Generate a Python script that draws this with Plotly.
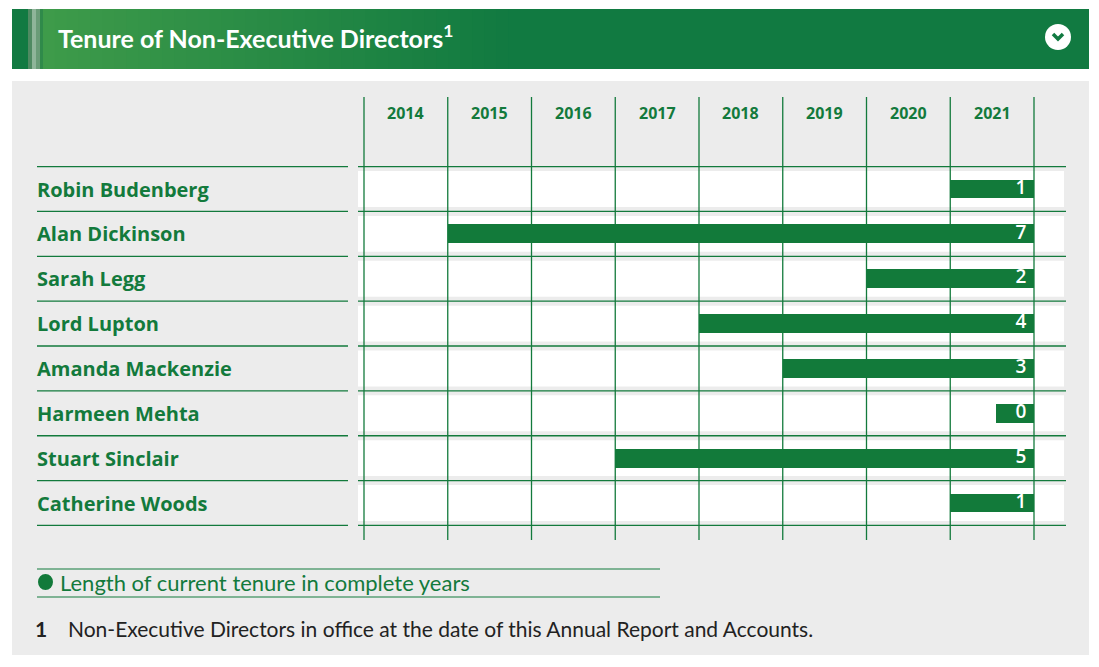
import plotly.graph_objects as go

# the page puts the figure 8px in from the top-left corner
OFF = 8
W, H = 1099 - OFF, 667 - OFF

# data
directors = ["Robin Budenberg", "Alan Dickinson", "Sarah Legg", "Lord Lupton",
             "Amanda Mackenzie", "Harmeen Mehta", "Stuart Sinclair", "Catherine Woods"]
start_year = [2021, 2015, 2020, 2018, 2019, 2021.55, 2017, 2021]
tenure_years = [1, 7, 2, 4, 3, 0, 5, 1]
years = [2014, 2015, 2016, 2017, 2018, 2019, 2020, 2021]
end_year = 2022

GREEN = "#137a3c"
BAR = "#127a3a"
GREY = "#ececec"

# pixel geometry of the chart area (x: year grid, y: rows), in screen pixels
x0_px, x1_px = 364, 1034
px_per_year = (x1_px - x0_px) / (end_year - years[0])
row0_px, row_px = 189, 44.86


def px_x(px):
    return (px - OFF) / W


def px_y(py):
    return 1 - (py - OFF) / H


xrange_ = [years[0] - (x0_px - OFF) / px_per_year, years[0] + (W + OFF - x0_px) / px_per_year]
yrange_ = [(H + OFF - row0_px) / row_px, -(row0_px - OFF) / row_px]

fig = go.Figure()

lengths = [end_year - s for s in start_year]
fig.add_trace(go.Bar(
    y=directors, x=lengths, base=start_year, orientation="h",
    marker=dict(color=BAR, line=dict(width=0)), width=0.42,
    hoverinfo="skip", showlegend=False,
))
fig.add_trace(go.Scatter(
    y=directors, x=[end_year - 0.09] * len(directors), mode="text",
    text=[str(t) for t in tenure_years], textposition="middle left",
    textfont=dict(family="Open Sans", size=19, color="white", weight=600),
    hoverinfo="skip", showlegend=False,
))

shapes = []
# grey panel
shapes.append(dict(type="rect", xref="paper", yref="paper", layer="below",
                   x0=px_x(12), x1=px_x(1089), y0=px_y(655), y1=px_y(81),
                   fillcolor=GREY, line=dict(width=0)))
# banner: fake gradient with strips
c0, c1 = (62, 155, 74), (17, 122, 65)
n = 40
bx0, bx1 = 43, 520
for i in range(n):
    t = i / (n - 1)
    col = tuple(int(c0[k] + (c1[k] - c0[k]) * t) for k in range(3))
    shapes.append(dict(type="rect", xref="paper", yref="paper", layer="below",
                       x0=px_x(bx0 + (bx1 - bx0) * i / n), x1=px_x(bx0 + (bx1 - bx0) * (i + 1) / n + 1),
                       y0=px_y(69), y1=px_y(9), fillcolor="rgb(%d,%d,%d)" % col, line=dict(width=0)))
shapes.append(dict(type="rect", xref="paper", yref="paper", layer="below",
                   x0=px_x(bx1), x1=px_x(1089), y0=px_y(69), y1=px_y(9),
                   fillcolor="rgb(17,122,65)", line=dict(width=0)))
shapes.append(dict(type="rect", xref="paper", yref="paper", layer="below",
                   x0=px_x(12), x1=px_x(28), y0=px_y(69), y1=px_y(9),
                   fillcolor="#127a42", line=dict(width=0)))
for (a, b, c) in [(28, 32, "#4f8a62"), (32, 36, "#8fb59a"), (36, 40, "#6a9c78"), (40, 43, "#2f8a4a")]:
    shapes.append(dict(type="rect", xref="paper", yref="paper", layer="below",
                       x0=px_x(a), x1=px_x(b), y0=px_y(69), y1=px_y(9),
                       fillcolor=c, line=dict(width=0)))
# chevron button
shapes.append(dict(type="circle", xref="paper", yref="paper", layer="above",
                   x0=px_x(1045), x1=px_x(1071), y0=px_y(50), y1=px_y(24),
                   fillcolor="white", line=dict(width=0)))
shapes.append(dict(type="path", xref="paper", yref="paper", layer="above",
                   path="M %f %f L %f %f L %f %f" % (px_x(1053), px_y(34), px_x(1058), px_y(39), px_x(1063), px_y(34)),
                   line=dict(color="#117a41", width=3.5)))

# white row bands
for i in range(len(directors)):
    shapes.append(dict(type="rect", xref="paper", yref="y", layer="below",
                       x0=px_x(358), x1=px_x(1064), y0=i - 0.40, y1=i + 0.40,
                       fillcolor="white", line=dict(width=0)))
# horizontal rules
for i in range(len(directors) + 1):
    yy = i - 0.5
    for a, b in [(37, 348), (358, 1066)]:
        shapes.append(dict(type="line", xref="paper", yref="y", layer="below",
                           x0=px_x(a), x1=px_x(b), y0=yy, y1=yy,
                           line=dict(color=GREEN, width=1.3)))
# vertical year lines
for yr in years + [end_year]:
    shapes.append(dict(type="line", xref="x", yref="paper", layer="below",
                       x0=yr, x1=yr, y0=px_y(540), y1=px_y(97),
                       line=dict(color=GREEN, width=1.3)))
# legend rules
for yy in [569, 597]:
    shapes.append(dict(type="line", xref="paper", yref="paper", layer="below",
                       x0=px_x(37), x1=px_x(660), y0=px_y(yy), y1=px_y(yy),
                       line=dict(color=GREEN, width=1.2)))
shapes.append(dict(type="circle", xref="paper", yref="paper", layer="above",
                   x0=px_x(38), x1=px_x(53), y0=px_y(590), y1=px_y(574),
                   fillcolor=BAR, line=dict(width=0)))

annotations = []
annotations.append(dict(xref="paper", yref="paper", x=px_x(56), y=px_y(37),
                        xanchor="left", yanchor="middle", showarrow=False,
                        text="Tenure of Non-Executive Directors<sup>1</sup>",
                        font=dict(family="Lato", size=25, color="white", weight="bold")))
for yr in years:
    annotations.append(dict(xref="x", yref="paper", x=yr + 0.5, y=px_y(113),
                            xanchor="center", yanchor="middle", showarrow=False, text=str(yr),
                            font=dict(family="Open Sans", size=16, color=GREEN, weight="bold")))
for name in directors:
    annotations.append(dict(xref="paper", yref="y", x=px_x(35), y=name,
                            xanchor="left", yanchor="middle", showarrow=False, text=name,
                            font=dict(family="Open Sans", size=20, color=GREEN, weight="bold")))
annotations.append(dict(xref="paper", yref="paper", x=px_x(58), y=px_y(582),
                        xanchor="left", yanchor="middle", showarrow=False,
                        text="Length of current tenure in complete years",
                        font=dict(family="Lato", size=22, color=GREEN)))
annotations.append(dict(xref="paper", yref="paper", x=px_x(33), y=px_y(628),
                        xanchor="left", yanchor="middle", showarrow=False, text="<b>1</b>",
                        font=dict(family="Lato", size=21, color="#222222")))
annotations.append(dict(xref="paper", yref="paper", x=px_x(66), y=px_y(628),
                        xanchor="left", yanchor="middle", showarrow=False,
                        text="Non-Executive Directors in office at the date of this Annual Report and Accounts.",
                        font=dict(family="Lato", size=21, color="#222222")))

fig.update_layout(
    width=W, height=H, margin=dict(l=0, r=0, t=0, b=0),
    paper_bgcolor="white", plot_bgcolor="rgba(0,0,0,0)",
    shapes=shapes, annotations=annotations, bargap=0,
    xaxis=dict(range=xrange_, visible=False, showgrid=False, zeroline=False),
    yaxis=dict(range=yrange_, visible=False, showgrid=False, zeroline=False,
               categoryorder="array", categoryarray=directors),
)

fig.write_html("out.html")
